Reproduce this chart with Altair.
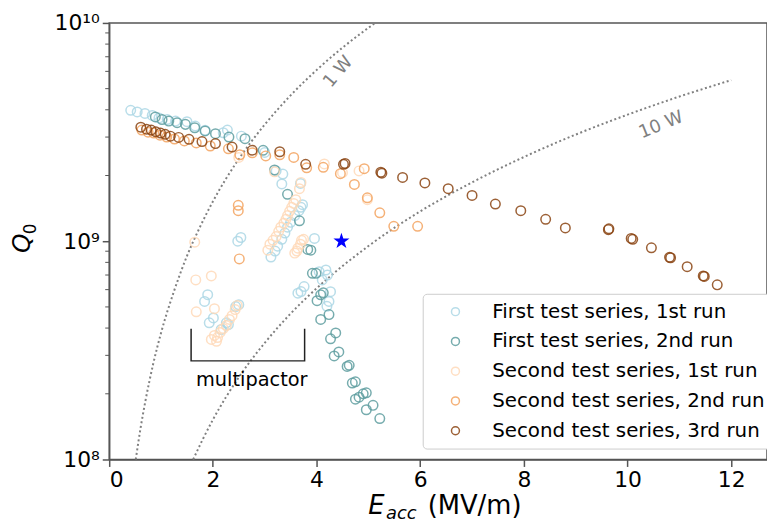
import altair as alt
import pandas as pd

series_names = [
    "First test series, 1st run",
    "First test series, 2nd run",
    "Second test series, 1st run",
    "Second test series, 2nd run",
    "Second test series, 3rd run",
]
series_colors = ["lightblue", "cadetblue", "peachpuff", "sandybrown", "saddlebrown"]

# Q0 values given in units of 1e9
e_first_1 = [0.415, 0.54, 0.69, 0.83, 0.96, 1.12, 1.28, 1.50, 1.66, 1.85, 2.20, 2.28, 2.55, 3.00, 3.22, 3.33, 3.35, 3.69, 3.70,
             2.48, 2.54, 1.90, 1.84, 1.93, 2.01, 2.26, 2.16, 2.30, 2.44, 2.50,
             3.12, 3.20, 3.25, 3.33, 3.39, 3.44, 3.50, 3.58, 3.66, 3.73, 3.96,
             3.70, 3.76, 3.64, 4.05, 4.18, 4.21, 4.11, 4.24, 4.20, 4.27]
q_first_1 = [3.98, 3.91, 3.85, 3.77, 3.67, 3.61, 3.55, 3.53, 3.37, 3.22, 3.14, 3.23, 3.03, 2.55, 2.10, 1.83, 2.03, 1.84, 1.43,
             1.00, 1.04, 0.569, 0.530, 0.423, 0.445, 0.423, 0.394, 0.415, 0.502, 0.512,
             0.846, 0.901, 0.949, 1.02, 1.09, 1.16, 1.22, 1.31, 1.38, 1.47, 1.03,
             0.588, 0.620, 0.578, 0.725, 0.738, 0.700, 0.665, 0.530, 0.503, 0.587]

e_first_2 = [0.89, 1.02, 1.15, 1.31, 1.47, 1.65, 1.85, 2.05, 2.31, 2.62, 2.97, 3.19, 3.44, 3.67, 3.83, 3.89, 3.92, 3.99,
             4.01, 4.08, 4.13, 4.24, 4.08, 4.27, 4.37, 4.43, 4.34, 4.59, 4.63, 4.69, 4.75, 4.75, 4.82, 4.90, 4.96, 4.96,
             5.09, 5.22]
q_first_2 = [3.71, 3.61, 3.55, 3.49, 3.43, 3.31, 3.20, 3.11, 3.00, 2.95, 2.61, 2.12, 1.64, 1.24, 0.917, 0.910, 0.713, 0.713,
             0.534, 0.568, 0.580, 0.461, 0.438, 0.357, 0.380, 0.311, 0.298, 0.267, 0.270, 0.224, 0.227, 0.189, 0.193, 0.200,
             0.202, 0.169, 0.177, 0.154]

e_second_1 = [4.15, 4.50, 4.82, 4.98, 3.19, 3.70, 3.67, 2.50,
              3.10, 3.16, 3.22, 3.27, 3.31, 3.37, 3.41, 3.44, 3.48, 3.52, 3.56, 3.60, 3.06,
              3.58, 3.64, 3.69, 3.75, 3.62, 3.71,
              1.65, 1.67, 1.97, 1.68, 2.03,
              1.97, 2.03, 2.09, 2.14, 2.20, 2.26, 2.32, 2.37, 2.43, 2.47, 2.07]
q_second_1 = [2.26, 2.06, 2.10, 1.55, 2.08, 1.86, 1.74, 2.42,
              0.969, 1.01, 1.05, 1.11, 1.16, 1.21, 1.26, 1.31, 1.37, 1.43, 1.49, 1.55, 0.910,
              0.882, 0.929, 0.969, 1.02, 0.901, 1.01,
              0.990, 0.665, 0.693, 0.475, 0.491,
              0.355, 0.370, 0.362, 0.382, 0.398, 0.411, 0.438, 0.456, 0.486, 0.507, 0.348]

e_second_2 = [0.63, 0.75, 0.86, 0.98, 1.11, 1.26, 1.45, 1.68, 1.95, 2.30, 2.52, 2.76, 3.02, 3.29, 3.56, 3.81, 4.13,
              4.46, 4.73, 4.92, 4.98, 5.22, 5.49, 5.95,
              2.49, 2.49, 2.51]
q_second_2 = [3.23, 3.16, 3.13, 3.06, 3.00, 2.94, 2.88, 2.82, 2.73, 2.65, 2.49, 2.54, 2.46, 2.49, 2.42, 2.17, 2.18,
              2.04, 1.82, 2.15, 1.58, 1.35, 1.17, 1.17,
              1.46, 1.38, 0.83]

e_second_3 = [0.61, 0.72, 0.81, 0.90, 0.99, 1.08, 1.18, 1.34, 1.54, 1.79, 2.05, 2.37, 2.76, 3.29, 3.79, 4.52, 4.55,
              5.24, 5.26, 5.66, 6.09, 6.54, 7.00, 7.45, 7.94, 8.42, 8.80, 9.63, 9.64, 10.07, 10.10, 10.46, 10.81, 10.83,
              11.15, 11.46, 11.48, 11.73]
q_second_3 = [3.33, 3.26, 3.23, 3.17, 3.13, 3.09, 3.03, 2.99, 2.93, 2.86, 2.80, 2.70, 2.61, 2.57, 2.25, 2.25, 2.27,
              2.07, 2.05, 1.96, 1.85, 1.74, 1.62, 1.48, 1.38, 1.26, 1.15, 1.13, 1.14, 1.03, 1.02, 0.933, 0.844, 0.84,
              0.764, 0.693, 0.69, 0.631]

star_e = [4.48]
star_q = [1.0]

# constant-power reference curves
w1_e = [0.513, 0.6, 0.7, 0.85, 1.0, 1.25, 1.5, 1.75, 2.0, 2.5, 3.0, 3.5, 4.0, 4.5, 5.13]
w1_q = [0.100, 0.137, 0.186, 0.275, 0.38, 0.59, 0.855, 1.16, 1.52, 2.38, 3.42, 4.66, 6.08, 7.7, 10.0]
w10_e = [1.62, 1.8, 2.0, 2.5, 3.0, 3.5, 4.0, 5.0, 6.0, 7.0, 8.0, 9.0, 10.0, 11.0, 12.0]
w10_q = [0.100, 0.123, 0.152, 0.238, 0.342, 0.466, 0.608, 0.95, 1.37, 1.86, 2.43, 3.08, 3.8, 4.6, 5.47]

bracket_e = [1.58, 1.58, 3.77, 3.77]
bracket_q = [0.397, 0.283, 0.283, 0.397]

x_ticks = [0, 2, 4, 6, 8, 10, 12]
y_ticks = [1e8, 1e9, 1e10]
y_minor = [float(m) * 10.0 ** k for k in (8, 9) for m in range(2, 10)]

STAR_PATH = ("M0,-1L0.2245,-0.309L0.951,-0.309L0.3633,0.118L0.5878,0.809L0,0.382"
             "L-0.5878,0.809L-0.3633,0.118L-0.951,-0.309L-0.2245,-0.309Z")

all_e = [e_first_1, e_first_2, e_second_1, e_second_2, e_second_3]
all_q = [q_first_1, q_first_2, q_second_1, q_second_2, q_second_3]
rows = []
for name, es, qs in zip(series_names, all_e, all_q):
    for e, q in zip(es, qs):
        rows.append({"E": e, "Q": q * 1e9, "series": name})
df = pd.DataFrame(rows)

w1_df = pd.DataFrame({"E": w1_e, "Q": [q * 1e9 for q in w1_q], "i": list(range(len(w1_e)))})
w10_df = pd.DataFrame({"E": w10_e, "Q": [q * 1e9 for q in w10_q], "i": list(range(len(w10_e)))})

xs = alt.Scale(domain=[0, 12.69], nice=False, zero=False)
ys = alt.Scale(type="log", domain=[1e8, 1e10], nice=False)

x_axis = alt.Axis(values=x_ticks, format="d", title=None, grid=False, labelFontSize=22,
                  tickSize=7, tickWidth=1.5, labelPadding=3)
y_axis = alt.Axis(values=y_ticks, title=None, grid=False, labelFontSize=22, tickSize=7, tickWidth=1.5,
                  labelPadding=3,
                  labelExpr="datum.value >= 5e9 ? '10¹⁰' : (datum.value >= 5e8 ? '10⁹' : '10⁸')")

points = alt.Chart(df).mark_point(
    shape="circle", filled=False, size=92, strokeWidth=1.5, opacity=0.85
).encode(
    x=alt.X("E:Q", scale=xs, axis=x_axis),
    y=alt.Y("Q:Q", scale=ys, axis=y_axis),
    color=alt.Color(
        "series:N",
        scale=alt.Scale(domain=series_names, range=series_colors),
        legend=alt.Legend(
            title=None, orient="none", legendX=316, legendY=273,
            labelFontSize=20, labelColor="black", labelLimit=400,
            symbolType="circle", symbolSize=64, symbolStrokeWidth=1.5,
            padding=8, rowPadding=10, symbolOffset=15, labelOffset=27,
            strokeColor="#cccccc", fillColor="white", cornerRadius=4,
        ),
    ),
)


def curve(d):
    return alt.Chart(d).mark_line(
        color="gray", strokeWidth=2, strokeDash=[2, 2.6], interpolate="monotone"
    ).encode(
        x=alt.X("E:Q", scale=xs),
        y=alt.Y("Q:Q", scale=ys),
        order=alt.Order("i:Q"),
    )


star = alt.Chart(pd.DataFrame({"E": star_e, "Q": [q * 1e9 for q in star_q]})).mark_point(
    shape=STAR_PATH, filled=True, color="blue", size=290, opacity=1
).encode(x=alt.X("E:Q", scale=xs), y=alt.Y("Q:Q", scale=ys))

bracket = alt.Chart(pd.DataFrame({"E": bracket_e, "Q": [q * 1e9 for q in bracket_q],
                                  "i": [0, 1, 2, 3]})).mark_line(
    color="#222222", strokeWidth=1.5
).encode(x=alt.X("E:Q", scale=xs), y=alt.Y("Q:Q", scale=ys), order=alt.Order("i:Q"))

lab_e = [4.42, 10.65, 2.75]
lab_q = [5.95e9, 3.4e9, 2.31e8]
lab_t = ["1 W", "10 W", "multipactor"]


def label(k, color, size, angle):
    d = pd.DataFrame({"E": [lab_e[k]], "Q": [lab_q[k]], "t": [lab_t[k]]})
    return alt.Chart(d).mark_text(color=color, fontSize=size, angle=angle).encode(
        x=alt.X("E:Q", scale=xs), y=alt.Y("Q:Q", scale=ys), text="t:N")


minor = alt.Chart(pd.DataFrame({"Q": y_minor})).mark_rule(color="#555555", strokeWidth=1).encode(
    y=alt.Y("Q:Q", scale=ys), x=alt.value(-4), x2=alt.value(0)
)


def free_text(t, size, x, y, style="normal", angle=0):
    return alt.Chart(pd.DataFrame({"t": [t]})).mark_text(
        fontSize=size, fontStyle=style, align="left", baseline="alphabetic", angle=angle, color="black"
    ).encode(text="t:N", x=alt.value(x), y=alt.value(y))


chart = alt.layer(
    curve(w1_df), curve(w10_df), points, star, bracket,
    label(0, "gray", 18, 310), label(1, "gray", 18, 338), label(2, "black", 19.5, 0),
    minor,
    free_text("E", 26, 261, 495, "italic"),
    free_text("acc", 18, 279, 500, "italic"),
    free_text("(MV/m)", 26, 321, 495),
    free_text("Q", 25, -80, 232, "italic", 270),
    free_text("0", 17, -74, 213, "normal", 270),
).properties(
    width=663, height=440,
    autosize=alt.AutoSizeParams(type="none"),
    padding={"left": 102, "top": 13, "right": 0, "bottom": 68},
).configure(
    font="DejaVu Sans",
).configure_view(
    stroke="#555555", strokeWidth=1.5
).configure_axis(
    domainColor="#555555", tickColor="#555555", labelColor="black", domainWidth=1.5
)

chart.save("out.html", embed_options={"renderer": "svg", "actions": False})
